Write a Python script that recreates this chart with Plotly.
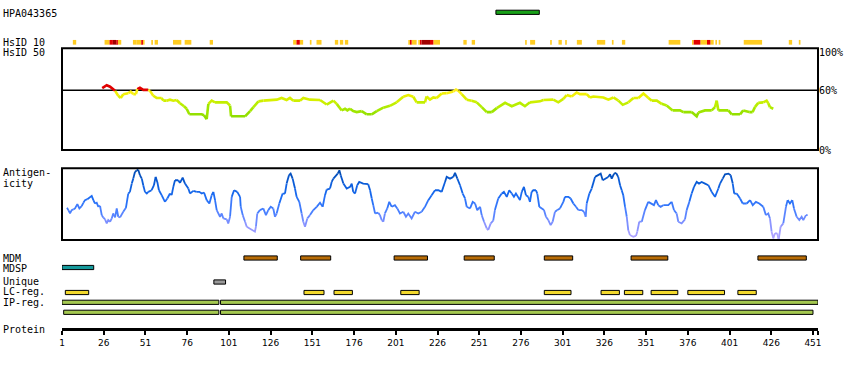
import plotly.graph_objects as go
from plotly.colors import sample_colorscale

# ---------------- data ----------------
PROTEIN_LENGTH = 454
TICK_RESIDUES = [1, 26, 51, 76, 101, 126, 151, 176, 201, 226, 251, 276, 301, 326, 351, 376, 401, 426, 451]

ANTIGEN_NAME = "HPA043365"
ANTIGEN_START = [261]
ANTIGEN_END = [287]

# HsID 10 blocks (inclusive residues); level 1 = low, 2 = high, 3 = very high identity
HSID10_START = [8, 27, 30, 32, 34, 35, 44, 46, 49, 50, 55, 57, 68, 75, 90,
                140, 142, 144, 150, 154, 165, 168, 171,
                209, 210, 211, 215, 216, 217, 222, 224, 242, 247, 279, 282,
                294, 299, 303, 310, 322, 331, 337, 365,
                379, 380, 384, 388, 390, 393, 395, 410, 437, 443]
HSID10_END = [9, 29, 31, 33, 34, 36, 45, 48, 49, 50, 55, 58, 72, 78, 91,
              141, 143, 145, 150, 156, 166, 169, 172,
              209, 210, 213, 215, 216, 221, 223, 227, 243, 248, 279, 284,
              294, 300, 303, 312, 326, 331, 338, 371,
              379, 383, 387, 389, 391, 393, 395, 420, 438, 443]
HSID10_LEVEL = [1, 1, 2, 3, 2, 1, 1, 1, 2, 1, 1, 1, 1, 1, 1,
                1, 2, 1, 1, 1, 1, 1, 1,
                1, 2, 1, 1, 2, 3, 2, 1, 1, 1, 1, 1,
                1, 1, 1, 1, 1, 1, 1, 1,
                1, 2, 1, 2, 1, 1, 1, 1, 1, 1]

# HsID 50 (% identity, sliding window)
HSID50_POS = [25.1, 27.8, 29.8, 31.7, 32.8, 34.7, 36.2, 37.7, 40.7, 42.2, 43.7, 45.3, 46.1, 47.7, 49.7,
              52.7, 53.7, 55.7, 57.7, 60.7, 61.7, 63.7, 65.7, 67.7, 69.7, 71.7, 74.1, 75.7, 77.3, 79.7,
              84.7, 86.1, 87.7, 88.7, 90.7, 92.7, 99.7, 101.7, 102.3, 110.7, 113.7, 115.7, 118.7, 121.7,
              125.7, 129.7, 132.6, 135.6, 137.6, 139.6, 143.6, 145.6, 149.6, 155.6, 159.6, 163.6, 165.6,
              168.6, 170.6, 172.0, 173.6, 175.5, 177.6, 180.6, 183.6, 186.6, 189.6, 193.5, 197.5, 201.5,
              205.5, 208.5, 211.5, 213.5, 218.5, 219.5, 221.5, 223.5, 225.5, 228.5, 231.5, 233.5, 235.5,
              237.1, 238.5, 240.5, 243.5, 246.5, 249.5, 252.5, 255.5, 258.5, 261.5, 266.5, 270.5, 275.4,
              278.4, 281.4, 287.4, 289.4, 295.4, 298.4, 301.4, 303.4, 306.4, 309.4, 311.4, 315.4, 317.4,
              319.4, 325.4, 328.4, 331.4, 334.4, 337.0, 340.4, 343.4, 346.4, 349.4, 352.4, 354.4, 357.4,
              360.3, 363.3, 366.9, 371.3, 373.3, 378.3, 381.3, 382.3, 386.3, 390.3, 392.3, 393.3, 394.3,
              400.3, 402.3, 407.3, 409.2, 412.8, 414.8, 416.2, 418.2, 421.2, 423.2, 424.2, 425.2, 427.2]
HSID50_VAL = [62, 65, 63.5, 61, 59.3, 54.4, 52.2, 56, 57, 58.6, 56, 56, 61, 62.5, 60.3,
              60.3, 59.3, 54.4, 52.2, 52.2, 49.5, 49.5, 50.5, 49.5, 50.2, 46.9, 43.9, 41.4, 35.8, 35.8,
              35.8, 34.8, 30.9, 46.3, 49.5, 47.8, 47.8, 44.6, 33.8, 33.8, 39, 43, 48.8, 49.5,
              50.2, 50.5, 52.2, 50.2, 52.2, 49.5, 49.5, 52.2, 50.5, 50.2, 45.6, 49.5, 46.3,
              39.7, 41.4, 39.7, 41.4, 39, 38, 39, 35.8, 35.8, 39, 42.4, 44.3, 47.8,
              53.4, 55.1, 53.4, 47.8, 47.8, 53.7, 50.5, 52.7, 52.2, 56.7, 57, 57.6, 58.6,
              60.6, 59.3, 56, 50.5, 49.5, 47.8, 43, 38, 38, 42, 47.3, 43.9, 47.3,
              43.9, 47.8, 48.8, 50.2, 50.5, 47.8, 51.2, 55.1, 53.7, 57.6, 56, 56, 52.7,
              53.7, 52.7, 50.5, 52.7, 49.5, 45.3, 47.8, 52.2, 52.2, 56.7, 52.2, 49.5, 49.5,
              46.3, 44.6, 39.7, 39.7, 38, 38, 33.8, 37.5, 39.7, 39.7, 43, 49.5, 39.7,
              39.7, 35.8, 35.8, 39.7, 38, 38, 43, 47.3, 47.8, 49.5, 46.9, 43, 41.4]

# Antigenicity (relative score 0-100)
ANTIGENICITY_POS = [4.0, 4.8, 5.8, 6.8, 7.8, 8.8, 10.2, 11.4, 12.8, 13.8, 14.8, 16.2, 17.8, 18.8, 19.8, 20.8,
                    21.8, 22.8, 23.8, 24.8, 25.7, 26.8, 27.8, 28.7, 29.8, 30.8, 31.7, 32.8, 33.8, 34.7, 35.8,
                    37.7, 39.3, 40.7, 41.7, 42.8, 43.7, 44.7, 45.8, 46.7, 47.7, 48.8, 49.7, 50.7, 51.8, 52.7,
                    54.7, 56.1, 57.1, 58.1, 59.1, 60.7, 62.7, 64.1, 65.7, 66.7, 67.7, 68.7, 70.7, 71.7, 73.3,
                    74.7, 76.7, 77.7, 79.7, 81.7, 83.3, 84.7, 86.1, 87.7, 89.3, 90.7, 91.7, 92.7, 93.7, 95.7,
                    96.7, 97.7, 99.7, 100.6, 101.7, 102.7, 104.1, 106.0, 107.7, 108.1, 109.3, 110.7, 111.7,
                    113.2, 115.3, 116.6, 117.2, 118.0, 119.6, 121.6, 123.2, 124.6, 126.1, 127.6, 128.6, 129.6,
                    131.2, 133.2, 134.6, 135.6, 137.0, 138.0, 139.2, 140.6, 141.6, 143.2, 144.6, 145.6, 146.6,
                    148.0, 149.6, 151.6, 153.6, 155.6, 157.2, 158.6, 159.6, 161.6, 162.6, 163.6, 165.2, 166.2,
                    167.2, 168.0, 169.6, 171.6, 173.6, 174.6, 175.5, 176.6, 177.9, 179.1, 181.5, 184.5, 185.6,
                    186.6, 187.5, 188.6, 190.5, 191.5, 192.6, 193.5, 194.5, 195.9, 197.1, 198.6, 200.5, 201.9,
                    203.5, 205.5, 207.1, 208.5, 210.5, 212.5, 214.5, 216.5, 218.5, 220.5, 222.5, 224.5, 226.5,
                    228.5, 230.5, 231.5, 233.5, 235.5, 236.5, 237.9, 239.5, 241.1, 242.5, 243.5, 245.5, 247.1,
                    248.5, 249.8, 251.5, 252.5, 253.9, 255.5, 256.4, 257.9, 259.4, 260.4, 262.4, 264.5, 265.8,
                    267.5, 269.0, 270.5, 271.8, 273.0, 275.4, 276.5, 277.8, 279.0, 280.4, 281.4, 282.4, 283.4,
                    285.0, 285.8, 287.0, 288.4, 289.8, 291.0, 292.4, 293.8, 295.0, 296.4, 297.8, 299.4, 301.4,
                    302.4, 304.4, 305.8, 307.4, 309.0, 310.4, 312.4, 313.8, 314.8, 315.4, 317.0, 318.4, 320.4,
                    322.4, 323.8, 325.0, 326.4, 328.3, 329.4, 330.4, 331.8, 333.0, 334.3, 335.4, 336.4, 337.3,
                    338.4, 339.4, 340.3, 341.3, 343.3, 344.9, 345.7, 346.9, 348.4, 350.3, 352.3, 354.3, 355.7,
                    356.9, 358.3, 359.7, 361.3, 364.3, 366.3, 367.7, 369.3, 370.3, 372.3, 374.3, 375.3, 376.9,
                    378.3, 379.7, 381.3, 382.7, 384.3, 386.3, 388.3, 390.3, 392.3, 394.3, 395.3, 396.9, 398.3,
                    400.3, 401.7, 402.9, 403.8, 405.3, 407.3, 408.9, 411.3, 413.3, 414.9, 416.8, 418.8, 421.2,
                    422.8, 424.2, 425.2, 426.2, 427.2, 428.2, 429.6, 430.4, 431.6, 433.2, 434.8, 435.8, 437.2,
                    438.6, 439.6, 441.2, 442.8, 444.2, 445.2, 446.8, 447.8]
ANTIGENICITY_VAL = [44.9, 41.7, 37, 41.7, 42.6, 44, 50, 44, 47.2, 51.9, 55.6, 56.9, 59.3, 61.6, 55.6, 50.9,
                    51.9, 46.3, 47.7, 34.7, 31.5, 28.7, 23.1, 27.8, 25.5, 30.1, 37, 31.5, 44, 32.4, 31.5,
                    39.4, 44.9, 64.8, 67.1, 78.7, 85.6, 94.9, 97.2, 98.1, 90.3, 85.6, 76.4, 67.1, 64.8, 67.1,
                    69.4, 76.4, 88, 81, 69.4, 62.5, 53.2, 57.9, 64.8, 62.5, 74.1, 83.3, 83.3, 79.6, 87,
                    78.7, 71.8, 64.8, 68.5, 67.1, 67.1, 64.8, 66.2, 55.6, 50.9, 62.5, 67.1, 55.6, 41.7, 32.4,
                    37, 30.1, 28.7, 23.1, 32.4, 60.2, 69.4, 67.1, 60.2, 46.3, 34.7, 25.5, 18.5,
                    16.2, 13.9, 11.6, 18.5, 37, 41.7, 44, 34.7, 41.7, 46.3, 44, 32.4, 37,
                    50.9, 64.8, 64.8, 78.7, 90.3, 92.6, 85.6, 71.8, 60.2, 53.2, 37, 25.5, 18.5,
                    30.1, 34.7, 41.7, 46.3, 51.9, 46.3, 62.5, 70.4, 71.8, 81, 85.6, 90.3, 92.6,
                    97.2, 90.3, 78.7, 71.8, 74.1, 78.7, 67.1, 64.8, 76.4, 81, 78.7, 77.8, 69.4,
                    57.9, 48.6, 37, 38, 34.7, 27.8, 25.5, 37, 44, 53.2, 46.3, 48.6, 44,
                    37, 39.4, 32.4, 37, 30.1, 39.4, 37, 39.4, 46.3, 55.6, 62.5, 69.4, 69.4,
                    67.1, 81, 88, 85.6, 88, 93.5, 85.6, 76.4, 64.8, 57.9, 46.3, 44, 53.2,
                    50.9, 41.7, 46.3, 34.7, 25.5, 16.2, 13.9, 23.1, 26.9, 41.7, 57.9, 64.8, 67.1,
                    60.2, 69.4, 64.8, 60.2, 64.8, 55.6, 67.1, 74.1, 62.5, 60.2, 53.2, 67.1, 69.4,
                    69.4, 64.8, 46.3, 44, 41.7, 32.4, 27.8, 20.8, 25.5, 39.4, 41.7, 44, 53.2,
                    60.2, 60.2, 57.9, 50.9, 46.3, 41.7, 41.7, 39.4, 32.4, 50.9, 64.8, 71.8, 88,
                    90.3, 92.6, 83.3, 85.6, 88, 91.7, 85.6, 92.6, 93.5, 88, 76.4, 69.4, 62.5,
                    46.3, 32.4, 13.9, 6.9, 4.6, 5.6, 11.6, 25.5, 25.5, 41.7, 53.2, 50.9, 48.6,
                    55.6, 48.6, 46.3, 48.6, 48.6, 53.2, 41.7, 37, 25.5, 23.1, 28.7, 41.7, 53.2,
                    64.8, 74.1, 81, 78.7, 81, 78.7, 76.4, 67.1, 60.2, 71.8, 78.7, 85.6, 91.7,
                    92.6, 90.3, 78.7, 64.8, 64.8, 57.9, 50.9, 50.9, 55.6, 48.6, 53.2, 50.9, 46.3,
                    34.7, 37, 30.1, 11.6, 2.3, 9.3, 9.3, 0, 18.5, 23.1, 46.3, 55.6, 50.9,
                    55.6, 44, 32.4, 27.8, 32.4, 27.8, 34.7, 34.7]

# Feature tracks (start, end residues)
MDM_START = [110, 144, 200, 242, 290, 342, 418]
MDM_END = [130, 162, 220, 260, 307, 364, 447]
MDSP_START = [1]
MDSP_END = [20]
UNIQUE_START = [92]
UNIQUE_END = [99]
LCREG_START = [3, 146, 164, 204, 290, 324, 338, 354, 376, 406]
LCREG_END = [17, 158, 175, 215, 306, 335, 349, 370, 398, 417]
IPREG1_START = [1, 96]
IPREG1_END = [95, 454]
IPREG2_START = [2, 96]
IPREG2_END = [95, 451]

# ---------------- layout / style constants ----------------
W, H = 850, 370
X_LEFT, X_RIGHT = 62, 818
MONO = "DejaVu Sans Mono"


def fy(py):
    """pixel row from top -> paper fraction"""
    return 1 - py / H


TRACK_Y = {"antigen": 12.3, "hsid10": 42.3, "MDM": 258, "MDSP": 267.5, "Unique": 282,
           "LC": 292.5, "IP1": 302.3, "IP2": 312.3}

HSID10_COLORS = {1: "#ffcc22", 2: "#e20000", 3: "#a00000"}
HSID_SCALE = [[0.0, "#88d800"], [0.27, "#99e400"], [0.5, "#b8ee00"],
              [0.67, "#d4f000"], [0.83, "#eef000"], [1.0, "#fff020"]]
ANTI_SCALE = [[0.0, "#b8a8ff"], [0.2, "#8c94ff"], [0.4, "#4a80ff"],
              [0.6, "#1c6cf4"], [0.8, "#0a5cd8"], [1.0, "#0046a8"]]


def hsid_color(v):
    if v >= 60:
        return "#e00000"
    t = min(max((v - 30) / 30, 0), 1)
    t = round(t * 16) / 16
    return sample_colorscale(HSID_SCALE, [t])[0]


def anti_color(v):
    t = min(max(v / 100, 0), 1)
    t = round(t * 20) / 20
    return sample_colorscale(ANTI_SCALE, [t])[0]


def colored_runs(xs, vs, color_of):
    groups = {}
    prev = None
    for i in range(len(xs) - 1):
        col = color_of((vs[i] + vs[i + 1]) / 2)
        xl, yl = groups.setdefault(col, ([], []))
        if col == prev:
            xl.append(xs[i + 1]); yl.append(vs[i + 1])
        else:
            if xl:
                xl.append(None); yl.append(None)
            xl += [xs[i], xs[i + 1]]; yl += [vs[i], vs[i + 1]]
        prev = col
    return groups


fig = go.Figure()


def add_bars(starts, ends, row, color, border=True, height=4.2, inclusive=False):
    if inclusive:
        base = [s - 0.5 for s in starts]
        length = [e - s + 1 for s, e in zip(starts, ends)]
    else:
        base = list(starts)
        length = [e - s for s, e in zip(starts, ends)]
    fig.add_trace(go.Bar(
        x=length, base=base, y=[TRACK_Y[row]] * len(starts), orientation="h",
        width=height, xaxis="x", yaxis="y4", hoverinfo="skip", showlegend=False,
        marker=dict(color=color, line=dict(color="black", width=1 if border else 0))))


# HsID 10 blocks, grouped by level
for lvl, col in HSID10_COLORS.items():
    idx = [i for i, l in enumerate(HSID10_LEVEL) if l == lvl]
    add_bars([HSID10_START[i] for i in idx], [HSID10_END[i] for i in idx],
             "hsid10", col, border=False, height=4.7, inclusive=True)

add_bars(ANTIGEN_START, ANTIGEN_END, "antigen", "#18a018")
add_bars(MDM_START, MDM_END, "MDM", "#b86c06")
add_bars(MDSP_START, MDSP_END, "MDSP", "#159a9c")
add_bars(UNIQUE_START, UNIQUE_END, "Unique", "#999999")
add_bars(LCREG_START, LCREG_END, "LC", "#f2d82c")
add_bars(IPREG1_START, IPREG1_END, "IP1", "#a4c850")
add_bars(IPREG2_START, IPREG2_END, "IP2", "#a4c850")

# HsID 50 line
for col, (xl, yl) in colored_runs(HSID50_POS, HSID50_VAL, hsid_color).items():
    fig.add_trace(go.Scatter(x=xl, y=yl, mode="lines", line=dict(color=col, width=2.6),
                             xaxis="x", yaxis="y2", hoverinfo="skip", showlegend=False))

# Antigenicity line
for col, (xl, yl) in colored_runs(ANTIGENICITY_POS, ANTIGENICITY_VAL, anti_color).items():
    fig.add_trace(go.Scatter(x=xl, y=yl, mode="lines", line=dict(color=col, width=1.8),
                             xaxis="x", yaxis="y3", hoverinfo="skip", showlegend=False))

xdom = [X_LEFT / W, X_RIGHT / W]
fig.update_layout(
    width=W, height=H, margin=dict(l=0, r=0, t=0, b=0, pad=0), autosize=False,
    paper_bgcolor="white", plot_bgcolor="rgba(0,0,0,0)", barmode="overlay",
    showlegend=False,
    xaxis=dict(domain=xdom, range=[1, PROTEIN_LENGTH], anchor="free", position=fy(329),
               showgrid=False, zeroline=False, showline=True, linecolor="black", linewidth=3,
               ticks="outside", ticklen=4, tickwidth=2, tickcolor="black",
               tickvals=TICK_RESIDUES + [PROTEIN_LENGTH],
               ticktext=[str(t) for t in TICK_RESIDUES] + [""], automargin=False,
               tickfont=dict(family="DejaVu Sans", size=9, color="black")),
    yaxis2=dict(domain=[fy(150), fy(48.3)], range=[0, 102], anchor="x", visible=False),
    yaxis3=dict(domain=[fy(240), fy(168.3)], range=[0, 100], anchor="x", visible=False),
    yaxis4=dict(domain=[0, 1], range=[H, 0], anchor="x", visible=False),
)

# boxes
fig.add_shape(type="rect", xref="x domain", yref="y2 domain", x0=0, x1=1, y0=0, y1=1,
              line=dict(color="black", width=2), layer="above")
fig.add_shape(type="line", xref="x domain", yref="y2", x0=0, x1=1, y0=60, y1=60,
              line=dict(color="black", width=1.5), layer="below")
fig.add_shape(type="rect", xref="x domain", yref="y3 domain", x0=0, x1=1, y0=0, y1=1,
              line=dict(color="black", width=2), layer="above")

# left labels
LEFT_LABELS = [("HPA043365", 13.3), ("HsID 10", 42.5), ("HsID 50", 52.7), ("Antigen-", 172.7),
               ("icity", 183.3), ("MDM", 258), ("MDSP", 268), ("Unique", 281.6),
               ("LC-reg.", 291.9), ("IP-reg.", 302.3), ("Protein", 329.3)]
for txt, py in LEFT_LABELS:
    fig.add_annotation(text=txt, xref="paper", yref="paper", x=2 / W, y=fy(py),
                       xanchor="left", yanchor="middle", showarrow=False, borderpad=0,
                       font=dict(family=MONO, size=10, color="black"))

# right percentage labels
for txt, val, shift in [("100%", 100, -2), ("60%", 60, 0), ("0%", 0, 0)]:
    fig.add_annotation(text=txt, xref="paper", yref="y2", x=818 / W, y=val, yshift=shift,
                       xanchor="left", yanchor="middle", showarrow=False, borderpad=0,
                       font=dict(family=MONO, size=10, color="black"))

fig.write_html("out.html", config={"displayModeBar": False, "staticPlot": True},
               post_script="document.body.style.margin='0';document.body.style.overflow='hidden';")
